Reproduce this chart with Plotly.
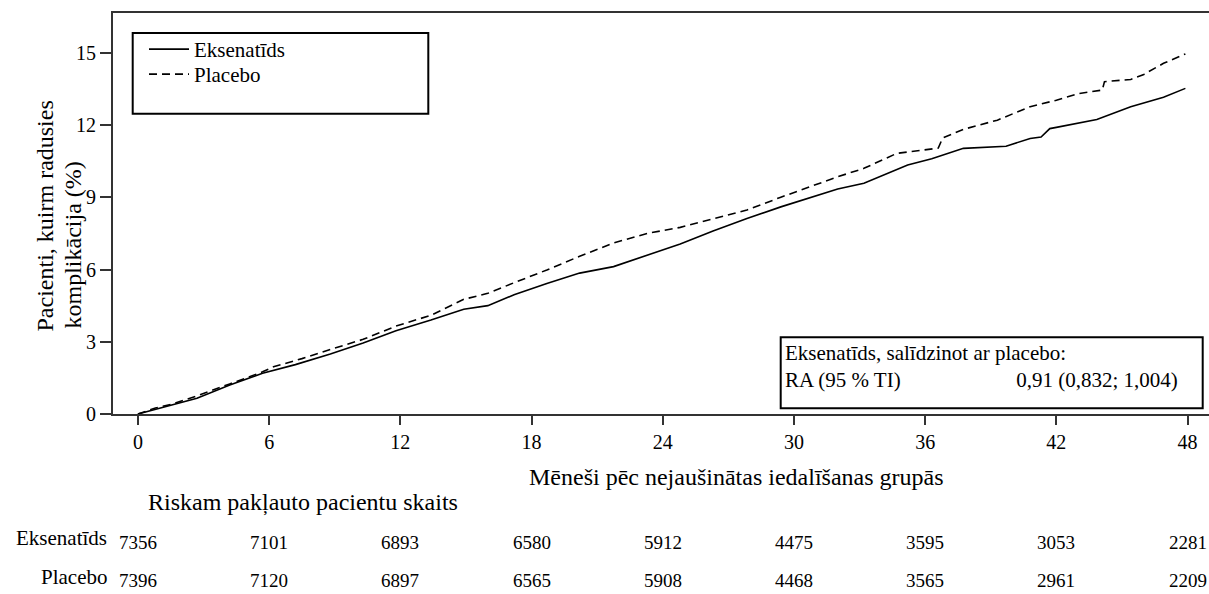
import plotly.graph_objects as go

# ---- data ----
eks_months = [0, 0.8, 1.5, 2.7, 4.2, 5.7, 7.2, 8.8, 10.3, 11.8, 13.4, 14.9, 16.0, 17.2, 18.7, 20.2, 21.75, 23.3, 24.8, 26.3,
              27.85, 29.4, 30.9, 32.0, 33.2, 34.7, 35.2, 36.3, 37.75, 39.7, 40.8, 41.3, 41.7, 42.0, 43.85, 45.4, 46.9, 47.9]
eks_pct = [0, 0.2, 0.35, 0.65, 1.2, 1.69, 2.05, 2.49, 2.95, 3.46, 3.9, 4.35, 4.5, 4.95, 5.42, 5.85, 6.12, 6.6, 7.06, 7.6,
           8.12, 8.6, 9.02, 9.34, 9.58, 10.13, 10.34, 10.6, 11.03, 11.12, 11.44, 11.5, 11.85, 11.9, 12.23, 12.76, 13.15, 13.52]

pla_months = [0, 0.8, 1.5, 2.7, 4.2, 5.7, 6.2, 7.5, 8.8, 10.3, 11.8, 13.4, 14.9, 16.0, 17.2, 18.7, 20.2, 21.75, 23.3, 24.8,
              26.3, 27.85, 29.4, 30.9, 32.0, 33.2, 34.7, 36.6, 36.8, 37.75, 39.3, 40.8, 42.0, 43.0, 44.1, 44.2, 45.4, 46.0, 46.9, 47.9]
pla_pct = [0, 0.25, 0.4, 0.75, 1.25, 1.75, 1.96, 2.3, 2.68, 3.1, 3.65, 4.1, 4.76, 5.01, 5.45, 5.98, 6.55, 7.1, 7.5, 7.75,
           8.1, 8.47, 9.0, 9.5, 9.85, 10.2, 10.82, 11.04, 11.46, 11.82, 12.2, 12.76, 13.03, 13.3, 13.45, 13.8, 13.89, 14.1, 14.56, 14.95]

risk_months = [0, 6, 12, 18, 24, 30, 36, 42, 48]
risk_eks = [7356, 7101, 6893, 6580, 5912, 4475, 3595, 3053, 2281]
risk_pla = [7396, 7120, 6897, 6565, 5908, 4468, 3565, 2961, 2209]

x_ticks = [0, 6, 12, 18, 24, 30, 36, 42, 48]
y_ticks = [0, 3, 6, 9, 12, 15]

series_names = ["Eksenatīds", "Placebo"]
x_title = "Mēneši pēc nejaušinātas iedalīšanas grupās"
y_title_lines = ["Pacienti, kuirm radusies", "komplikācija (%)"]
risk_title = "Riskam pakļauto pacientu skaits"
hr_line1 = "Eksenatīds, salīdzinot ar placebo:"
hr_label = "RA (95 % TI)"
hr_value = "0,91 (0,832; 1,004)"

FONT = "Liberation Serif"
AXC = "#333333"

# ---- pixel helpers for layout (plot area: x 113..1209, y 13..414) ----
L, R, T, B = 113, 1209, 13, 414
def px(xp):
    return (xp - L) / (R - L)
def py(yp):
    return (B - yp) / (B - T)

def f(size):
    return dict(family=FONT, size=size, color="black")

fig = go.Figure()
fig.add_trace(go.Scatter(x=eks_months, y=eks_pct, mode="lines", name=series_names[0], legend="legend",
                         line=dict(color="black", width=1.6)))
fig.add_trace(go.Scatter(x=pla_months, y=pla_pct, mode="lines", name=series_names[1], legend="legend2",
                         line=dict(color="black", width=1.6, dash="8px,5px")))

leg_common = dict(xanchor="left", yanchor="top", bgcolor="rgba(0,0,0,0)", borderwidth=0,
                  font=f(21), tracegroupgap=0, itemwidth=40)
fig.update_layout(
    width=1209, height=594, autosize=False,
    margin=dict(l=L, r=1209 - R, t=T, b=594 - B),
    paper_bgcolor="white", plot_bgcolor="white",
    font=f(20),
    showlegend=True,
    legend=dict(x=px(144), y=py(29), **leg_common),
    legend2=dict(x=px(144), y=py(54), **leg_common),
    xaxis=dict(range=[-1.14, 48.98], tickvals=x_ticks, ticks="outside", ticklen=9, tickwidth=1.5,
               tickcolor=AXC, showline=True, linecolor=AXC, linewidth=2, mirror=True,
               showgrid=False, zeroline=False, tickfont=f(20)),
    yaxis=dict(range=[0, 16.65], tickvals=y_ticks, ticks="outside", ticklen=11, tickwidth=1.5,
               tickcolor=AXC, showline=True, linecolor=AXC, linewidth=2, mirror=False,
               showgrid=False, zeroline=False, tickfont=f(20)),
)

shapes = [
    dict(type="rect", xref="paper", yref="paper", x0=px(132.7), x1=px(428.3), y0=py(113.7), y1=py(33),
         line=dict(color="black", width=2)),
    dict(type="rect", xref="paper", yref="paper", x0=px(780.7), x1=px(1202.7), y0=py(408.3), y1=py(337.3),
         line=dict(color="black", width=2)),
]
fig.update_layout(shapes=shapes)

ann = []
hr_text = hr_line1 + "<br>" + hr_label + "&nbsp;" * 22 + hr_value
ann.append(dict(text=hr_text, xref="paper", yref="paper", x=px(783), y=py(339), xanchor="left", yanchor="top",
                align="left", showarrow=False, font=f(21)))
ann.append(dict(text=x_title, xref="paper", yref="paper", x=px(736), y=py(477), xanchor="center", yanchor="middle",
                showarrow=False, font=f(24)))
ann.append(dict(text=y_title_lines[0], xref="paper", yref="paper", x=px(44), y=py(334), xanchor="center",
                yanchor="bottom", textangle=-90, showarrow=False, font=f(24)))
ann.append(dict(text=y_title_lines[1], xref="paper", yref="paper", x=px(72), y=py(331), xanchor="center",
                yanchor="bottom", textangle=-90, showarrow=False, font=f(24)))
ann.append(dict(text=risk_title, xref="paper", yref="paper", x=px(146), y=py(502), xanchor="left", yanchor="middle",
                showarrow=False, font=f(24)))
ann.append(dict(text=series_names[0], xref="paper", yref="paper", x=px(109), y=py(538), xanchor="right",
                yanchor="middle", showarrow=False, font=f(21)))
ann.append(dict(text=series_names[1], xref="paper", yref="paper", x=px(109), y=py(577), xanchor="right",
                yanchor="middle", showarrow=False, font=f(21)))
for m, n in zip(risk_months, risk_eks):
    ann.append(dict(text=str(n), xref="x", yref="paper", x=m, y=py(542), xanchor="center", yanchor="middle",
                    showarrow=False, font=f(19)))
for m, n in zip(risk_months, risk_pla):
    ann.append(dict(text=str(n), xref="x", yref="paper", x=m, y=py(580), xanchor="center", yanchor="middle",
                    showarrow=False, font=f(19)))
fig.update_layout(annotations=ann)

fig.write_html("out.html")
